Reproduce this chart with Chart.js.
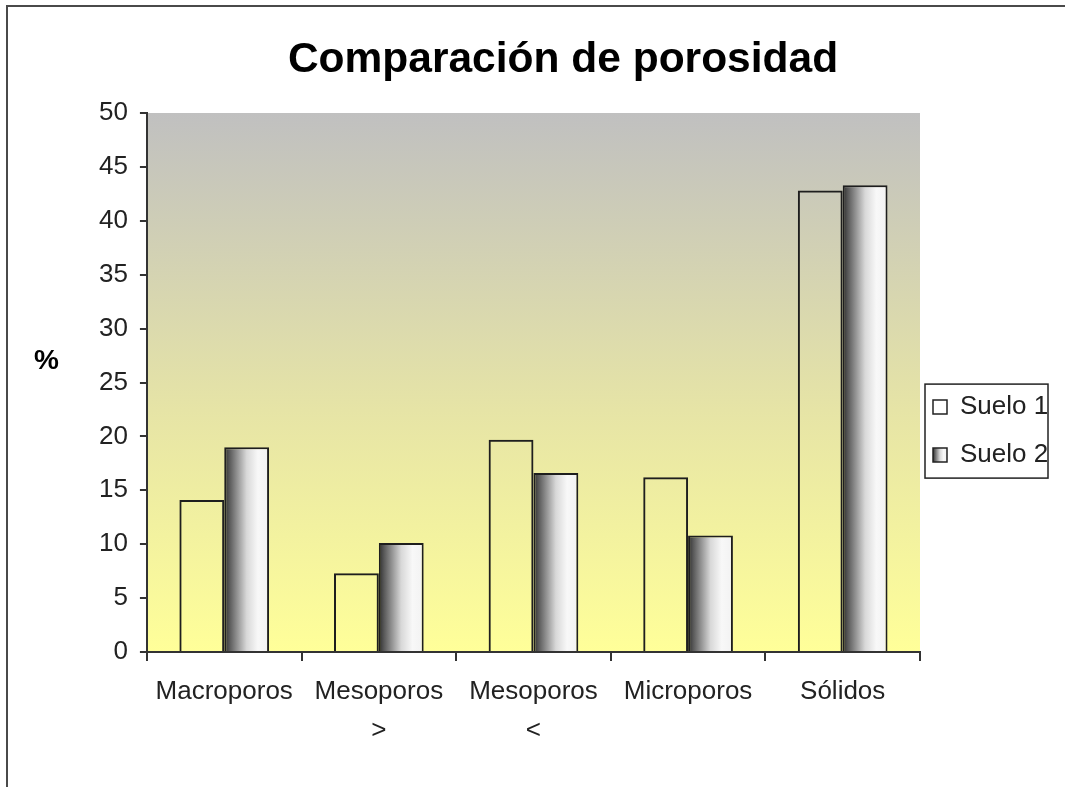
<!DOCTYPE html>
<html lang="es">
<head>
<meta charset="utf-8">
<title>Comparación de porosidad</title>
<script src="https://cdn.jsdelivr.net/npm/chart.js@4.4.1/dist/chart.umd.min.js"></script>
<style>
  html, body { margin: 0; padding: 0; background: #fff; overflow: hidden; }
  #wrap { position: relative; width: 1065px; height: 787px; }
  #frame {
    position: absolute; left: 6px; top: 5px; width: 1200px; height: 900px;
    border-top: 2px solid #4a4a4a; border-left: 2px solid #4a4a4a;
    pointer-events: none;
  }
  #yTitle {
    position: absolute; left: 34px; top: 344px;
    font: bold 28px "Liberation Sans", Arial, sans-serif; color: #000;
  }
  canvas { position: absolute; left: 0; top: 0; }
</style>
</head>
<body>
<div id="wrap">
  <div id="frame"></div>
  <canvas id="chart" width="1065" height="787"></canvas>
  <div id="yTitle">%</div>
</div>
<script>
// Categories (multi-line labels) and the two soil series, in percent
const categories = [['Macroporos'], ['Mesoporos', '>'], ['Mesoporos', '<'], ['Microporos'], ['Sólidos']];
const seriesNames = ['Suelo 1', 'Suelo 2'];
const suelo1 = [14.1, 7.3, 19.7, 16.2, 42.8];
const suelo2 = [19.0, 10.1, 16.6, 10.8, 43.3];
const yMin = 0, yMax = 50, yStep = 5;

const FONT = '"Liberation Sans", Arial, sans-serif';
const CAT_PCT = 0.58;

// Metallic shading used for the second series (dark left edge fading to white)
function metalGradient(ctx2d, x0, x1) {
  const g = ctx2d.createLinearGradient(x0, 0, x1, 0);
  g.addColorStop(0, '#2e2e2e');
  g.addColorStop(0.12, '#5a5a5a');
  g.addColorStop(0.5, '#d8d8d8');
  g.addColorStop(0.75, '#f8f8f8');
  g.addColorStop(1, '#f2f2f2');
  return g;
}

function suelo2Fill(context) {
  const chart = context.chart;
  const xs = chart.scales && chart.scales.x;
  if (!xs || context.dataIndex === undefined) return '#999';
  const catW = xs.width / categories.length;
  const c = xs.getPixelForValue(context.dataIndex);
  const w = catW * CAT_PCT / 2;
  if (!isFinite(c) || !isFinite(w) || w <= 0) return '#999';
  return metalGradient(chart.ctx, c, c + w);
}

// Plot-area fill: grey at the top blending into pale yellow at the base
const plotBackground = {
  id: 'plotBackground',
  beforeDraw(chart) {
    const { ctx, chartArea: a } = chart;
    if (!a) return;
    const g = ctx.createLinearGradient(0, a.top, 0, a.bottom);
    g.addColorStop(0, '#c0c0c0');
    g.addColorStop(0.55, '#e6e4a6');
    g.addColorStop(1, '#ffff99');
    ctx.save();
    ctx.fillStyle = g;
    ctx.fillRect(a.left, a.top, a.right - a.left, a.bottom - a.top);
    ctx.restore();
  }
};

// Legend sits a little closer to the plot than its label padding would give,
// may run to the canvas edge, gets a shaded swatch and a thin frame
const LEGEND_NUDGE = -9;
const legendFrame = {
  id: 'legendFrame',
  afterLayout(chart) {
    const lg = chart.legend;
    if (!lg) return;
    lg.left += LEGEND_NUDGE;
    lg.right = chart.width;
    lg.width = lg.right - lg.left;
  },
  beforeDraw(chart) {
    const lg = chart.legend;
    if (!lg || !lg.legendHitBoxes || !lg.legendHitBoxes[1]) return;
    const hb = lg.legendHitBoxes[1];
    if (!isFinite(hb.left)) return;
    lg.legendItems[1].fillStyle = metalGradient(chart.ctx, hb.left, hb.left + 14);
  },
  afterDraw(chart) {
    const lg = chart.legend;
    if (!lg || !lg.legendHitBoxes || !lg.legendHitBoxes.length) return;
    const first = lg.legendHitBoxes[0];
    const last = lg.legendHitBoxes[lg.legendHitBoxes.length - 1];
    const left = first.left - 8;
    const top = first.top - 10;
    const bottom = last.top + last.height + 10;
    const { ctx } = chart;
    ctx.save();
    ctx.strokeStyle = '#222';
    ctx.lineWidth = 1.5;
    ctx.strokeRect(left, top, 123, bottom - top);
    ctx.restore();
  }
};

new Chart(document.getElementById('chart'), {
  type: 'bar',
  data: {
    labels: categories,
    datasets: [
      {
        label: seriesNames[0],
        data: suelo1,
        backgroundColor: 'rgba(255,255,255,0)',
        borderColor: '#1e1e1e',
        borderWidth: 2,
        borderSkipped: 'bottom'
      },
      {
        label: seriesNames[1],
        data: suelo2,
        backgroundColor: suelo2Fill,
        borderColor: '#1e1e1e',
        borderWidth: 2,
        borderSkipped: 'bottom'
      }
    ]
  },
  options: {
    responsive: false,
    animation: false,
    layout: { padding: { left: 87, right: 26, top: 0, bottom: 26 } },
    datasets: { bar: { categoryPercentage: CAT_PCT, barPercentage: 1 } },
    scales: {
      x: {
        grid: { drawOnChartArea: false, drawTicks: true, tickLength: 9, color: '#333', lineWidth: 2, offset: true },
        border: { display: true, color: '#333', width: 2 },
        ticks: {
          color: '#222', maxRotation: 0, autoSkip: false, padding: 11,
          font: { family: FONT, size: 26, lineHeight: 1.5 }
        }
      },
      y: {
        min: yMin, max: yMax,
        grid: { drawOnChartArea: false, drawTicks: true, tickLength: 7, color: '#333', lineWidth: 2 },
        border: { display: true, color: '#333', width: 2 },
        ticks: {
          stepSize: yStep, color: '#222', padding: 12,
          font: { family: FONT, size: 26 }
        }
      }
    },
    plugins: {
      title: {
        display: true,
        text: 'Comparación de porosidad',
        color: '#000',
        font: { family: FONT, size: 42.5, weight: 'bold', lineHeight: 1.2 },
        padding: { top: 35, bottom: 27 }
      },
      legend: {
        position: 'right',
        align: 'center',
        maxWidth: 119,
        title: { display: true, text: '', padding: { top: 100, bottom: 0 }, font: { size: 1 } },
        labels: {
          color: '#222',
          font: { family: FONT, size: 26 },
          boxWidth: 14, boxHeight: 14, padding: 22,
          generateLabels(chart) {
            const items = Chart.defaults.plugins.legend.labels.generateLabels(chart);
            items.forEach(it => { it.strokeStyle = '#222'; it.lineWidth = 1.5; });
            items[0].fillStyle = '#ffffff';
            items[1].fillStyle = '#888888';
            return items;
          }
        }
      },
      tooltip: { enabled: false }
    }
  },
  plugins: [plotBackground, legendFrame]
});
</script>
</body>
</html>
